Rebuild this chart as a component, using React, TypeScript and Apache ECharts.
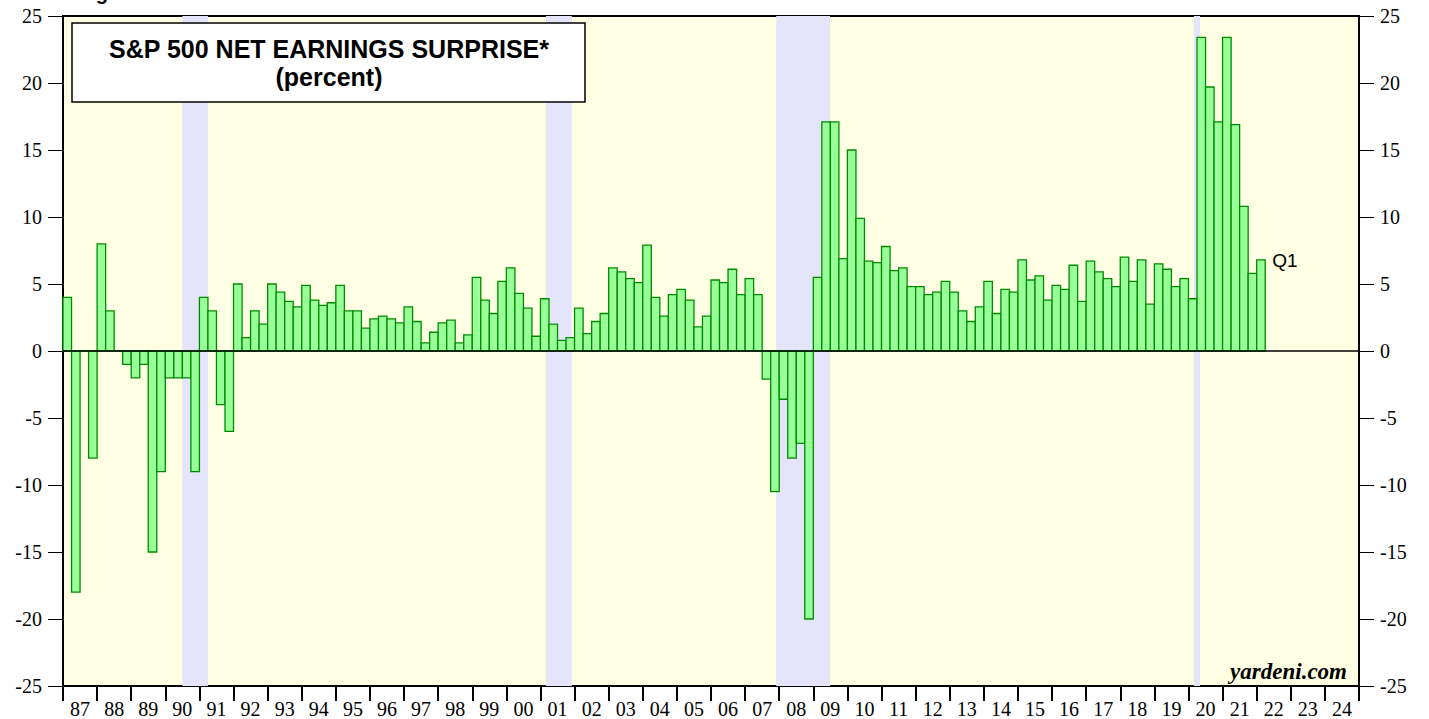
import React, { useEffect, useRef } from "react";
import * as echarts from "echarts";

// Year labels on the x axis (1987 .. 2024)
const yearLabels: string[] = [
  "87", "88", "89", "90", "91", "92", "93", "94", "95", "96",
  "97", "98", "99", "00", "01", "02", "03", "04", "05", "06",
  "07", "08", "09", "10", "11", "12", "13", "14", "15", "16",
  "17", "18", "19", "20", "21", "22", "23", "24",
];

const firstYear = 1987;
const lastYear = 2025;

// Quarterly net earnings surprise (percent), from 1987 Q1 to 2022 Q1
const surprise: number[] = [
  4, -18, 0, -8, // 87
  8, 3, 0, -1, // 88
  -2, -1, -15, -9, // 89
  -2, -2, -2, -9, // 90
  4, 3, -4, -6, // 91
  5, 1, 3, 2, // 92
  5, 4.4, 3.7, 3.3, // 93
  4.9, 3.8, 3.4, 3.6, // 94
  4.9, 3.0, 3.0, 1.7, // 95
  2.4, 2.6, 2.4, 2.1, // 96
  3.3, 2.2, 0.6, 1.4, // 97
  2.1, 2.3, 0.6, 1.2, // 98
  5.5, 3.8, 2.8, 5.2, // 99
  6.2, 4.3, 3.2, 1.1, // 00
  3.9, 2.0, 0.8, 1.0, // 01
  3.2, 1.3, 2.2, 2.8, // 02
  6.2, 5.9, 5.4, 5.1, // 03
  7.9, 4.0, 2.6, 4.2, // 04
  4.6, 3.8, 1.8, 2.6, // 05
  5.3, 5.1, 6.1, 4.2, // 06
  5.4, 4.2, -2.1, -10.5, // 07
  -3.6, -8.0, -6.9, -20.0, // 08
  5.5, 17.1, 17.1, 6.9, // 09
  15.0, 9.9, 6.7, 6.6, // 10
  7.8, 6.0, 6.2, 4.8, // 11
  4.8, 4.2, 4.4, 5.2, // 12
  4.4, 3.0, 2.2, 3.3, // 13
  5.2, 2.8, 4.6, 4.4, // 14
  6.8, 5.3, 5.6, 3.8, // 15
  4.9, 4.6, 6.4, 3.7, // 16
  6.7, 5.9, 5.4, 4.8, // 17
  7.0, 5.2, 6.8, 3.5, // 18
  6.5, 6.1, 4.8, 5.4, // 19
  3.9, 23.4, 19.7, 17.1, // 20
  23.4, 16.9, 10.8, 5.8, // 21
  6.8, // 22 Q1
];

// Recession periods (start, end) in fractional years
const recessions: [number, number][] = [
  [1990.5, 1991.25],
  [2001.16, 2001.92],
  [2007.91, 2009.49],
  [2020.16, 2020.34],
];

const yMin = -25;
const yMax = 25;
const yStep = 5;
const lastLabel = "Q1";

export default function App() {
  const ref = useRef<HTMLDivElement>(null);

  useEffect(() => {
    if (!ref.current) return;
    const chart = echarts.init(ref.current, undefined, { renderer: "svg" });

    const barData = surprise.map((v, i) => [firstYear + i * 0.25, v]);
    const lastIdx = barData.length - 1;

    const serif = "'Liberation Serif', 'Times New Roman', serif";
    const sans = "'Liberation Sans', Arial, sans-serif";

    const yAxisCommon = {
      type: "value",
      min: yMin,
      max: yMax,
      interval: yStep,
      splitLine: { show: false },
      axisLine: { show: true, onZero: false, lineStyle: { color: "#000", width: 2 } },
      axisTick: { show: true, length: 15, lineStyle: { color: "#000", width: 1 } },
      axisLabel: { color: "#000", fontFamily: serif, fontSize: 20, margin: 21 },
    };

    chart.setOption({
      animation: false,
      grid: {
        left: 63,
        right: 70,
        top: 16,
        bottom: 30,
        show: true,
        backgroundColor: "#ffffe3",
        borderColor: "#000",
        borderWidth: 2,
        containLabel: false,
      },
      xAxis: [
        {
          type: "value",
          min: firstYear,
          max: lastYear,
          show: false,
          position: "top",
          axisLine: { onZero: false },
          splitLine: { show: false },
        },
        {
          type: "category",
          data: yearLabels,
          position: "bottom",
          boundaryGap: true,
          axisLine: { show: true, onZero: false, lineStyle: { color: "#000", width: 2 } },
          axisTick: {
            show: true,
            alignWithLabel: false,
            interval: 0,
            length: 15,
            lineStyle: { color: "#000", width: 2 },
          },
          axisLabel: {
            interval: 0,
            color: "#000",
            fontFamily: serif,
            fontSize: 20,
            margin: 13,
          },
          splitLine: { show: false },
        },
      ],
      yAxis: [
        { ...yAxisCommon, position: "left" },
        { ...yAxisCommon, position: "right" },
      ],
      series: [
        {
          type: "custom",
          name: "recessions",
          xAxisIndex: 0,
          yAxisIndex: 0,
          z: 1,
          silent: true,
          data: recessions.map((r) => [r[0], r[1]]),
          encode: { x: [0, 1] },
          renderItem: (params: any, api: any) => {
            const a = api.coord([api.value(0), yMax]);
            const b = api.coord([api.value(1), yMin]);
            return {
              type: "rect",
              shape: { x: a[0], y: a[1], width: b[0] - a[0], height: b[1] - a[1] },
              style: { fill: "#e4e4fa" },
            };
          },
        },
        {
          type: "custom",
          name: "surprise",
          xAxisIndex: 0,
          yAxisIndex: 0,
          z: 2,
          data: barData,
          encode: { x: 0, y: 1 },
          renderItem: (params: any, api: any) => {
            const x = api.value(0);
            const v = api.value(1);
            const p0 = api.coord([x, 0]);
            const p1 = api.coord([x + 0.25, v]);
            const rect = {
              type: "rect",
              shape: {
                x: p0[0],
                y: Math.min(p0[1], p1[1]),
                width: p1[0] - p0[0],
                height: Math.abs(p1[1] - p0[1]),
              },
              style: { fill: "#99ff99", stroke: "#008a00", lineWidth: 1.3 },
            };
            if (params.dataIndex === lastIdx) {
              return {
                type: "group",
                children: [
                  rect,
                  {
                    type: "text",
                    x: p1[0] + 7,
                    y: p1[1] + 1,
                    style: {
                      text: lastLabel,
                      fill: "#000",
                      font: `19px ${sans}`,
                      align: "left",
                      verticalAlign: "middle",
                    },
                  },
                ],
              };
            }
            return rect;
          },
        },
        {
          type: "line",
          name: "zero",
          xAxisIndex: 0,
          yAxisIndex: 0,
          z: 3,
          symbol: "none",
          silent: true,
          data: [
            [firstYear, 0],
            [lastYear, 0],
          ],
          lineStyle: { color: "#000", width: 1.4 },
        },
      ],
      graphic: [
        {
          type: "text",
          left: 78,
          top: -17,
          style: {
            text: "Figure",
            fill: "#000",
            font: `bold 20px ${sans}`,
          },
        },
        {
          type: "rect",
          shape: { x: 72, y: 23, width: 513, height: 79 },
          style: { fill: "#fff", stroke: "#000", lineWidth: 1.5 },
          z: 10,
        },
        {
          type: "text",
          x: 329,
          y: 63,
          z: 11,
          style: {
            text: "S&P 500 NET EARNINGS SURPRISE*\n(percent)",
            fill: "#000",
            font: `bold 25px ${sans}`,
            lineHeight: 28,
            align: "center",
            verticalAlign: "middle",
          },
        },
        {
          type: "text",
          x: 1347,
          y: 671,
          z: 11,
          style: {
            text: "yardeni.com",
            fill: "#000",
            font: `italic bold 23px ${serif}`,
            align: "right",
            verticalAlign: "middle",
          },
        },
      ],
    });

    return () => chart.dispose();
  }, []);

  return (
    <div
      ref={ref}
      style={{ position: "absolute", left: 0, top: 0, width: 1429, height: 719 }}
    />
  );
}
